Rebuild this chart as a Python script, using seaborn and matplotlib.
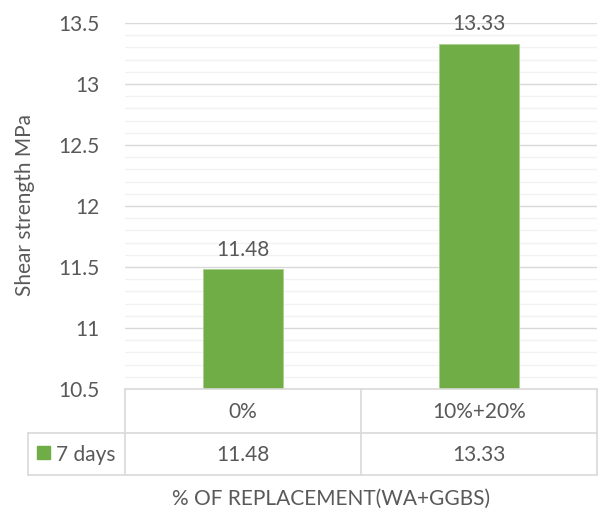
import matplotlib
matplotlib.use("Agg")
import matplotlib.pyplot as plt
import seaborn as sns
import pandas as pd
import numpy as np
from matplotlib.lines import Line2D
from matplotlib.patches import Rectangle

categories = ["0%", "10%+20%"]
values_7days = [11.48, 13.33]
series_name = "7 days"
ylabel = "Shear strength MPa"
xlabel = "% OF REPLACEMENT(WA+GGBS)"

sns.set_theme(style="white")
plt.rcParams['font.family'] = ['Lato', 'DejaVu Sans']

W, H = 601, 512
fig = plt.figure(figsize=(W / 100, H / 100), dpi=100)

def fx(x):
    return x / W

def fy(y):
    return 1 - y / H

FS = 15
ax_l, ax_r, ax_t, ax_b = 125, 597, 23, 389
ax = fig.add_axes([fx(ax_l), fy(ax_b), fx(ax_r) - fx(ax_l), fy(ax_t) - fy(ax_b)])

df = pd.DataFrame({"cat": categories, "val": values_7days})
green = "#70AD47"
text_c = "#595959"
sns.barplot(data=df, x="cat", y="val", color=green, width=0.34, ax=ax,
            edgecolor="#A9D18E", linewidth=0.6, saturation=1)

ax.set_ylim(10.5, 13.5)
ax.set_xlim(-0.5, 1.5)
ax.set_yticks(np.arange(10.5, 13.51, 0.5))
ax.set_yticklabels(["10.5", "11", "11.5", "12", "12.5", "13", "13.5"])
ax.set_yticks(np.arange(10.5, 13.51, 0.1), minor=True)
ax.grid(True, axis="y", which="major", color="#D9D9D9", linewidth=1.0)
ax.grid(True, axis="y", which="minor", color="#F2F2F2", linewidth=1.0)
ax.set_axisbelow(True)
ax.tick_params(axis="y", which="both", length=0, labelsize=FS, colors=text_c, pad=18)
ax.set_xticks([])
ax.set_xlabel("")
ax.set_ylabel("")
for s in ["top", "right", "left", "bottom"]:
    ax.spines[s].set_visible(False)

fig.text(fx(25), fy(205), ylabel, rotation=90, ha="center", va="center",
         fontsize=FS, color=text_c)

for i, v in enumerate(values_7days):
    ax.annotate(f"{v:.2f}", (i, v), xytext=(0, 7), textcoords="offset points",
                ha="center", va="bottom", fontsize=FS, color=text_c)

# data table
lc = "#D9D9D9"
def line(x0, y0, x1, y1):
    fig.add_artist(Line2D([fx(x0), fx(x1)], [fy(y0), fy(y1)], color=lc, lw=1.2,
                          transform=fig.transFigure))

mid = 361
tb_l = 28
r1, r2, r3 = 389, 433, 475
line(ax_l, r1, ax_r, r1)
line(tb_l, r2, ax_r, r2)
line(tb_l, r3, ax_r, r3)
line(tb_l, r2, tb_l, r3)
for xv in [ax_l, mid, ax_r]:
    line(xv, r1, xv, r3)

centers = [(ax_l + mid) / 2, (mid + ax_r) / 2]
for c, cat, v in zip(centers, categories, values_7days):
    fig.text(fx(c), fy(412), cat, ha="center", va="center", fontsize=FS, color=text_c)
    fig.text(fx(c), fy(455), f"{v:.2f}", ha="center", va="center", fontsize=FS, color=text_c)

fig.add_artist(Rectangle((fx(37), fy(459)), fx(13), fy(446) - fy(459), color=green,
                         transform=fig.transFigure))
fig.text(fx(56), fy(455), series_name, ha="left", va="center", fontsize=FS, color=text_c)

fig.text(fx(331), fy(499), xlabel, ha="center", va="center", fontsize=FS, color=text_c)

fig.savefig("out.png", dpi=100)
